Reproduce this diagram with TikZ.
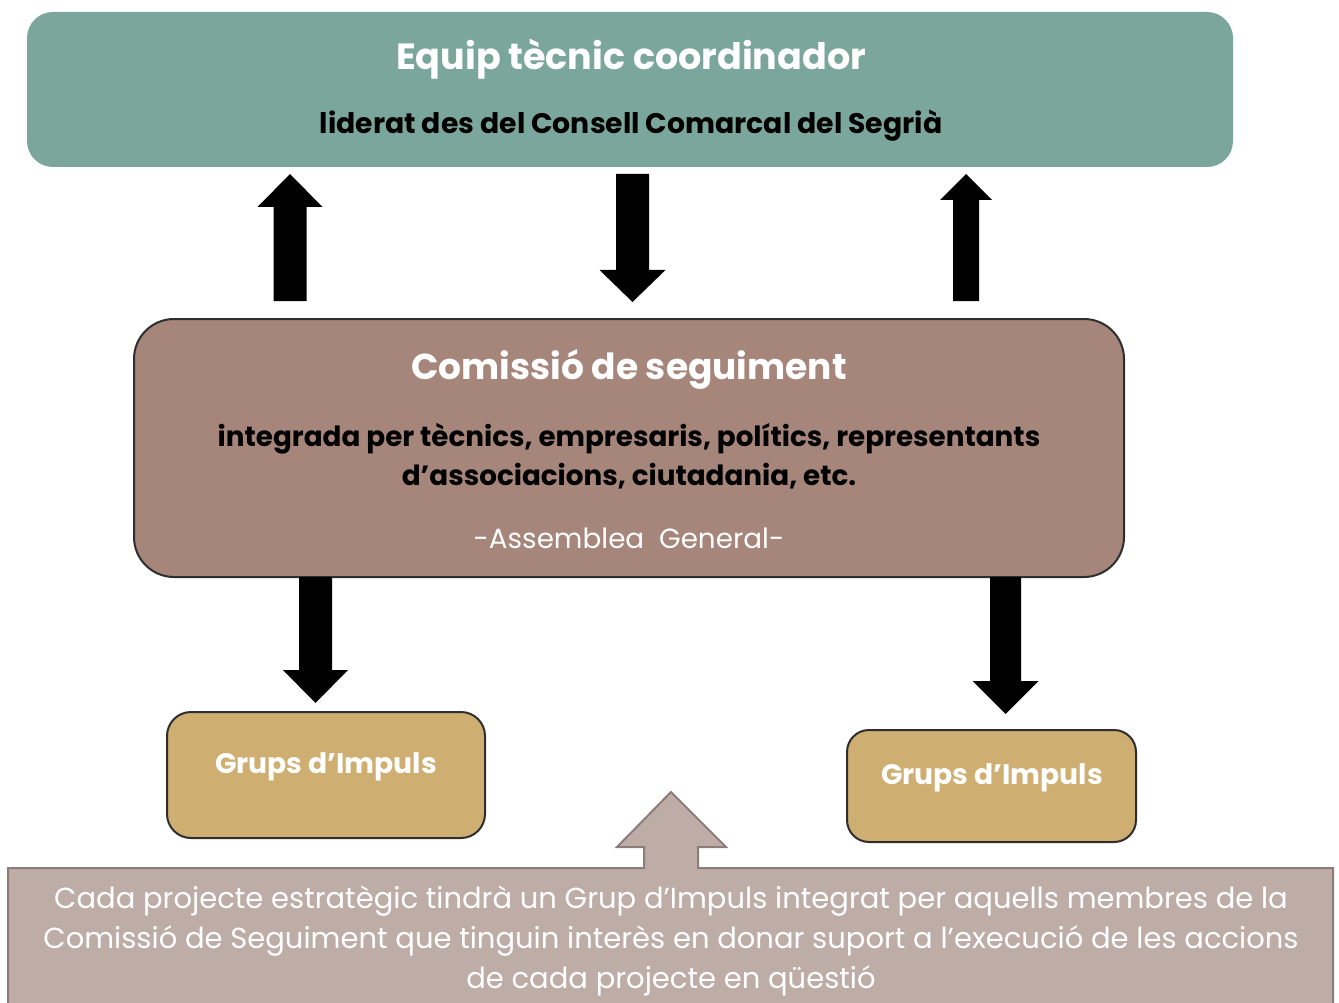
\documentclass[tikz,border=0pt]{standalone}
\usepackage{fontspec}
\setmainfont{Poppins}
\definecolor{topcol}{HTML}{7BA69C}
\definecolor{midcol}{HTML}{A6857A}
\definecolor{grpcol}{HTML}{CFAE71}
\definecolor{botcol}{HTML}{BDADA6}
\definecolor{botline}{HTML}{8C7D78}
\definecolor{edgecol}{HTML}{2E2E2E}
\tikzset{
  titletxt/.style={text=white,font=\fontsize{36.5}{44}\selectfont\bfseries,inner sep=0pt},
  subtxt/.style={text=black,font=\fontsize{27.8}{39}\selectfont\bfseries,inner sep=0pt,align=center},
  grptxt/.style={text=white,font=\fontsize{28.2}{30}\selectfont\bfseries,inner sep=0pt},
  bottxt/.style={text=white,font=\fontsize{29}{40}\selectfont,inner sep=0pt,align=center},
  blockarr/.style={fill=black},
}
% \vArrowPoly{x}{ybase}{ytip}{shaft half}{head half}{head base y}
\newcommand\vArrowPoly[6]{%
  \fill[blockarr] (#1-#4,#2) -- (#1-#4,#6) -- (#1-#5,#6) -- (#1,#3) -- (#1+#5,#6) -- (#1+#4,#6) -- (#1+#4,#2) -- cycle;}
\begin{document}
\begin{tikzpicture}[x=1pt,y=-1pt]
\useasboundingbox (0,0) rectangle (1339,1003);
% top box
\node[fill=topcol,rounded corners=26pt,minimum width=1206pt,minimum height=155pt,inner sep=0pt] (top) at (630,89.5) {};
\node[titletxt] (toptitle) at (631,59) {Equip tècnic coordinador};
\node[subtxt,font=\fontsize{28.3}{39}\selectfont\bfseries] (topsub) at (631,126) {liderat des del Consell Comarcal del Segrià};
% middle box
\node[fill=midcol,draw=edgecol,line width=2pt,rounded corners=40pt,minimum width=990pt,minimum height=258pt,inner sep=0pt] (mid) at (629,448) {};
\node[titletxt,font=\fontsize{36}{44}\selectfont\bfseries] (midtitle) at (629,369) {Comissió de seguiment};
\node[subtxt] (midsub) at (629,456) {integrada per tècnics, empresaris, polítics, representants\\d’associacions, ciutadania, etc.};
\node[text=white,font=\fontsize{27.8}{30}\selectfont,inner sep=0pt] (assem) at (629,538) {-Assemblea\ \ General-};
% arrows between top and middle
\vArrowPoly{290}{301}{174}{16.5}{32.5}{207}
\vArrowPoly{632.5}{174}{302}{16.5}{33}{270}
\vArrowPoly{966}{301}{174}{13}{26}{200}
% grups boxes
\node[fill=grpcol,draw=edgecol,line width=2pt,rounded corners=24pt,minimum width=318pt,minimum height=126pt,inner sep=0pt] (grp1) at (326,775) {};
\node[grptxt] (grp1t) at (326,767) {Grups d’Impuls};
\node[fill=grpcol,draw=edgecol,line width=2pt,rounded corners=22pt,minimum width=289pt,minimum height=112pt,inner sep=0pt] (grp2) at (991.5,786) {};
\node[grptxt] (grp2t) at (992,778) {Grups d’Impuls};
% arrows middle to grups
\vArrowPoly{315.5}{577}{703}{16.5}{32.5}{670}
\vArrowPoly{1005.5}{577}{714}{15.5}{33}{681}
% bottom callout
\draw[fill=botcol,draw=botline,line width=2pt] (8,1010) -- (8,868) -- (644,868) -- (644,847) -- (617,847) -- (671,792) -- (726,847) -- (698,847) -- (698,868) -- (1333,868) -- (1333,1010) -- cycle;
\node[bottxt] (bott) at (671,941) {Cada projecte estratègic tindrà un Grup d’Impuls integrat per aquells membres de la\\Comissió de Seguiment que tinguin interès en donar suport a l’execució de les accions\\de cada projecte en qüestió};
\end{tikzpicture}
\end{document}
